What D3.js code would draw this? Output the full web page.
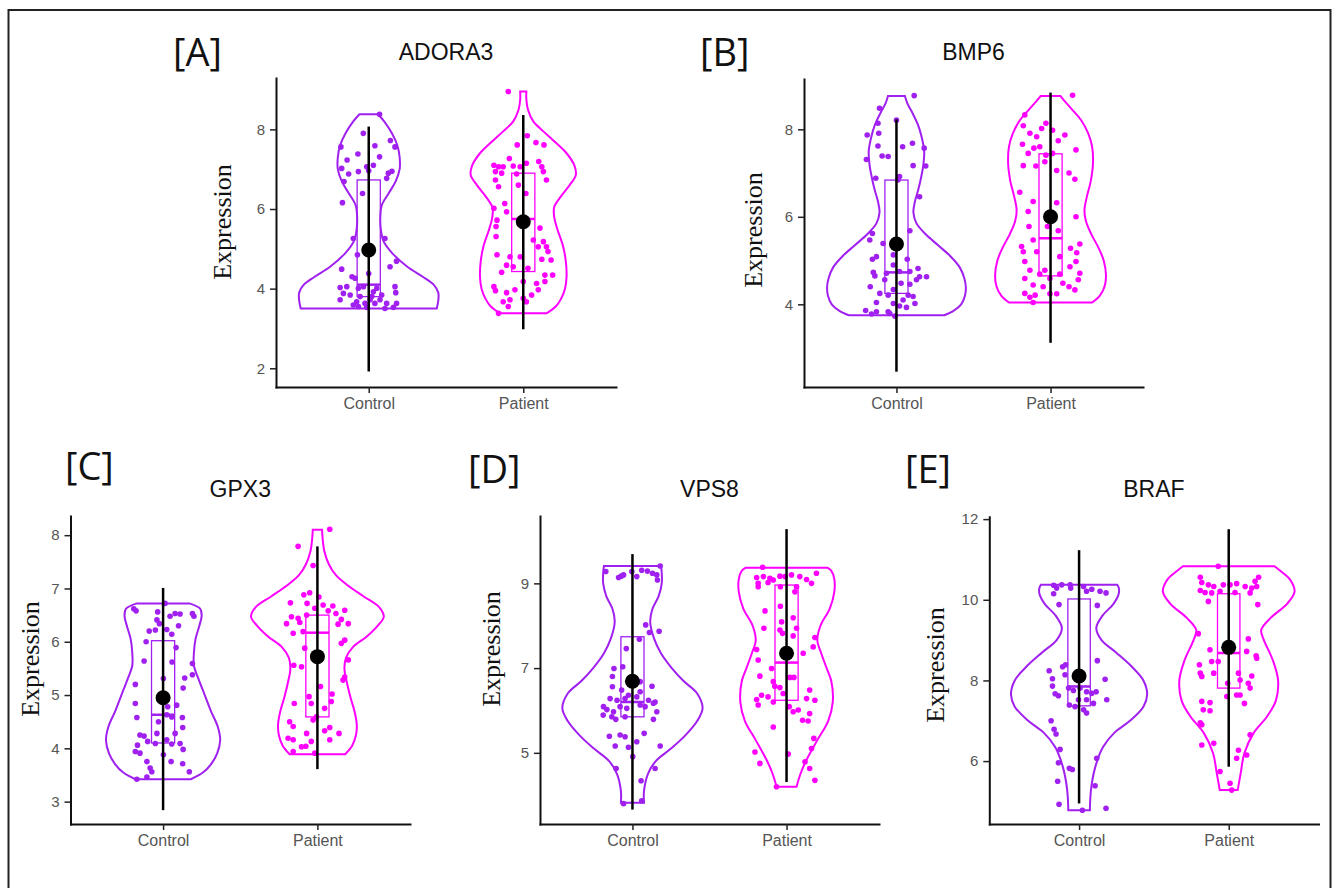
<!DOCTYPE html>
<html>
<head>
<meta charset="utf-8">
<script src="https://cdn.jsdelivr.net/npm/d3@7"></script>
<style>
  body { margin: 0; background: #fff; }
</style>
</head>
<body>
<div id="chart"></div>
<script>
//////////////////////////// DATA
var genes = ["ADORA3", "BMP6", "GPX3", "VPS8", "BRAF"];
var letters = ["[A]", "[B]", "[C]", "[D]", "[E]"];
var groups = ["Control", "Patient"];
var yTicks = [[2, 4, 6, 8], [4, 6, 8], [3, 4, 5, 6, 7, 8], [5, 7, 9], [6, 8, 10, 12]];
var yDomains = [[1.53, 9.29], [2.11, 9.15], [2.58, 8.36], [3.32, 10.59], [4.44, 12.06]];

// box: [q1, median, q3] for Control, Patient
var boxAdora3 = [[3.8, 4.1, 6.73], [4.43, 5.75, 6.9]];
var boxBmp6   = [[4.25, 4.73, 6.84], [4.65, 5.51, 7.44]];
var boxGpx3   = [[4.1, 4.63, 6.02], [4.59, 6.17, 6.5]];
var boxVps8   = [[5.85, 6.2, 7.74], [6.24, 7.13, 8.96]];
var boxBraf   = [[7.37, 7.85, 10.02], [7.81, 8.68, 10.15]];

// mean with error bar: [mean, low, high] for Control, Patient
var meanAdora3 = [[4.97, 1.92, 8.07], [5.68, 2.98, 8.36]];
var meanBmp6   = [[5.38, 2.46, 8.23], [6.0, 3.12, 8.84]];
var meanGpx3   = [[4.95, 2.84, 7.01], [5.72, 3.61, 7.79]];
var meanVps8   = [[6.69, 3.66, 9.69], [7.35, 4.31, 10.28]];
var meanBraf   = [[8.11, 4.95, 11.23], [8.82, 5.86, 11.75]];

// violin outlines: [expression, half width in category units]
var vioAdora3Ctrl = [[3.5,0.44],[3.7,0.45],[3.9,0.45],[4.1,0.42],[4.3,0.35],[4.55,0.25],[4.9,0.15],[5.2,0.095],[5.5,0.078],[5.8,0.075],[6.1,0.085],[6.4,0.13],[6.7,0.175],[7.0,0.2],[7.3,0.2],[7.6,0.185],[7.9,0.15],[8.2,0.1],[8.38,0.06]];
var vioAdora3Pat  = [[3.38,0.15],[3.55,0.21],[3.75,0.245],[4.0,0.27],[4.3,0.28],[4.7,0.275],[5.1,0.255],[5.5,0.22],[5.8,0.2],[6.05,0.2],[6.3,0.24],[6.6,0.3],[6.85,0.34],[7.1,0.33],[7.4,0.28],[7.7,0.2],[7.95,0.13],[8.2,0.065],[8.5,0.03],[8.75,0.02],[8.95,0.02]];
var vioBmp6Ctrl   = [[3.75,0.31],[3.85,0.37],[4.0,0.42],[4.2,0.445],[4.4,0.45],[4.6,0.44],[4.85,0.41],[5.1,0.35],[5.35,0.27],[5.6,0.19],[5.85,0.13],[6.1,0.11],[6.35,0.12],[6.6,0.14],[6.9,0.16],[7.2,0.175],[7.5,0.18],[7.8,0.165],[8.1,0.14],[8.4,0.1],[8.6,0.07],[8.76,0.055]];
var vioBmp6Pat    = [[4.04,0.27],[4.2,0.32],[4.4,0.35],[4.65,0.36],[5.0,0.345],[5.3,0.31],[5.6,0.265],[5.9,0.23],[6.15,0.22],[6.45,0.235],[6.8,0.26],[7.2,0.275],[7.6,0.27],[7.9,0.245],[8.2,0.2],[8.45,0.14],[8.65,0.09],[8.76,0.065]];
var vioGpx3Ctrl   = [[3.42,0.18],[3.55,0.26],[3.7,0.31],[3.9,0.35],[4.15,0.37],[4.4,0.355],[4.7,0.31],[5.0,0.27],[5.3,0.23],[5.55,0.2],[5.8,0.2],[6.05,0.21],[6.3,0.235],[6.5,0.25],[6.62,0.24],[6.72,0.17]];
var vioGpx3Pat    = [[3.89,0.18],[4.05,0.225],[4.25,0.25],[4.45,0.255],[4.7,0.24],[4.95,0.215],[5.25,0.19],[5.5,0.175],[5.7,0.185],[5.9,0.23],[6.1,0.32],[6.3,0.39],[6.47,0.43],[6.65,0.4],[6.85,0.3],[7.05,0.2],[7.25,0.12],[7.45,0.075],[7.7,0.045],[7.9,0.035],[8.1,0.03]];
var vioVps8Ctrl   = [[3.82,0.075],[4.1,0.075],[4.5,0.1],[4.8,0.15],[5.1,0.25],[5.4,0.34],[5.75,0.42],[6.05,0.455],[6.4,0.42],[6.7,0.33],[7.0,0.255],[7.35,0.185],[7.7,0.14],[8.1,0.115],[8.4,0.13],[8.7,0.17],[9.0,0.19],[9.25,0.19],[9.41,0.185]];
var vioVps8Pat    = [[4.2,0.065],[4.5,0.09],[4.8,0.125],[5.3,0.2],[5.75,0.27],[6.2,0.3],[6.7,0.29],[7.0,0.26],[7.35,0.225],[7.65,0.2],[8.0,0.22],[8.4,0.28],[8.8,0.31],[9.1,0.31],[9.3,0.29],[9.37,0.265]];
var vioBrafCtrl   = [[4.78,0.072],[5.3,0.08],[5.85,0.108],[6.35,0.16],[6.7,0.235],[7.0,0.34],[7.35,0.43],[7.65,0.455],[8.0,0.43],[8.35,0.35],[8.7,0.245],[9.0,0.15],[9.3,0.115],[9.6,0.155],[9.9,0.23],[10.15,0.265],[10.3,0.265],[10.37,0.255]];
var vioBrafPat    = [[5.28,0.06],[5.7,0.08],[6.2,0.105],[6.7,0.167],[7.1,0.255],[7.5,0.315],[8.0,0.33],[8.5,0.295],[9.0,0.235],[9.25,0.217],[9.55,0.28],[9.9,0.39],[10.2,0.44],[10.5,0.41],[10.7,0.35],[10.83,0.306]];

// jittered samples: [horizontal offset in category units, expression]
var ptsAdora3Ctrl = [[0.07,8.38],[-0.035,7.9],[-0.18,7.56],[0.04,7.59],[0.14,7.72],[0.17,7.56],[-0.07,7.38],[0.07,7.31],[-0.14,7.23],[-0.175,7.02],[-0.013,7.06],[0.03,7.1],[-0.13,6.88],[-0.067,6.94],[0,6.96],[0.127,6.9],[0.116,6.77],[0.15,6.95],[-0.16,6.69],[-0.04,6.39],[-0.17,6.16],[-0.1,5.26],[0.105,5.26],[-0.073,4.85],[0,4.38],[0.18,4.69],[-0.175,4.49],[0.138,4.55],[-0.108,4.3],[-0.088,4.26],[-0.185,4.03],[-0.142,4.05],[-0.164,3.88],[-0.067,4.01],[-0.034,4.05],[0.03,3.92],[0.052,4.01],[0.17,4.05],[0.175,3.9],[-0.185,3.72],[-0.12,3.84],[-0.078,3.67],[-0.056,3.8],[-0.024,3.63],[0.009,3.72],[0.04,3.63],[0.073,3.72],[0.116,3.63],[-0.067,3.55],[-0.013,3.53],[0.105,3.5],[0.16,3.53],[0.18,3.63],[-0.1,3.59],[0.02,3.8],[0.084,3.84]];
var ptsAdora3Pat  = [[-0.097,8.95],[0.026,7.84],[0.082,7.67],[0.134,7.61],[-0.039,7.61],[-0.09,7.27],[0.02,7.15],[-0.19,7.1],[-0.16,7.06],[-0.13,7.06],[-0.065,7.08],[-0.02,7.06],[0.1,7.19],[0.12,7.06],[-0.18,6.94],[-0.14,6.9],[-0.043,6.88],[0.13,6.94],[0.15,6.73],[-0.18,6.73],[-0.16,6.56],[-0.032,6.6],[0.017,6.39],[-0.12,6.14],[-0.19,6.02],[-0.108,5.93],[-0.17,5.72],[-0.176,5.56],[0.108,5.52],[-0.176,5.31],[0.065,5.22],[0.13,5.18],[0.15,5.05],[0.097,5.05],[0.16,4.93],[-0.17,4.85],[-0.086,4.8],[-0.02,4.8],[0.18,4.72],[0.12,4.74],[-0.108,4.59],[-0.065,4.55],[0.03,4.51],[0.19,4.34],[0.14,4.34],[-0.14,4.41],[0,4.18],[0.086,4.13],[0.14,4.18],[-0.19,4.05],[0.097,3.97],[-0.18,3.95],[-0.108,3.9],[-0.054,3.97],[0.054,3.84],[0,3.76],[-0.13,3.67],[-0.086,3.72],[0.02,3.67],[-0.097,3.55],[-0.16,3.38]];
var ptsBmp6Ctrl   = [[0.115,8.77],[-0.11,8.48],[-0.12,8.14],[0,8.21],[-0.19,7.87],[-0.115,7.91],[-0.12,7.62],[0.04,7.6],[0.104,7.68],[0.18,7.57],[-0.093,7.39],[-0.054,7.38],[-0.195,7.31],[0.19,7.16],[0.108,7.17],[-0.134,6.88],[0.02,6.92],[0.01,6.84],[0.15,6.46],[0.087,5.68],[-0.156,5.62],[-0.173,5.47],[-0.087,5.39],[-0.02,5.13],[-0.13,5.09],[-0.156,5.03],[0.07,5.03],[-0.02,4.9],[-0.15,4.73],[-0.14,4.65],[-0.065,4.71],[0.02,4.75],[0.087,4.75],[0.14,4.82],[0.15,4.63],[0.195,4.63],[-0.17,4.4],[-0.076,4.56],[0.03,4.48],[0.087,4.46],[0.13,4.56],[-0.02,4.34],[-0.108,4.25],[-0.054,4.21],[0.076,4.21],[0.108,4.18],[0.043,4.1],[0.12,4.02],[-0.02,4.02],[-0.13,4.04],[0.02,3.96],[-0.2,3.86],[-0.13,3.83],[-0.054,3.83],[-0.162,3.78],[-0.043,3.79],[-0.01,3.73],[0.065,3.93]];
var ptsBmp6Pat    = [[0.143,8.78],[-0.167,8.33],[-0.177,8.08],[-0.058,8.02],[0.013,7.98],[-0.03,8.14],[-0.134,7.91],[-0.09,7.83],[0.093,7.87],[-0.182,7.66],[-0.108,7.57],[-0.07,7.6],[0.05,7.74],[0.165,7.53],[-0.145,7.45],[-0.03,7.41],[0.013,7.45],[-0.177,7.17],[-0.095,7.16],[-0.037,7.26],[0.04,7.06],[0.12,7.0],[0.158,6.86],[-0.2,6.56],[-0.113,6.35],[0.04,6.32],[-0.145,6.12],[0.165,6.0],[-0.14,5.78],[-0.02,5.78],[0.05,5.68],[-0.113,5.47],[-0.188,5.32],[-0.177,5.2],[-0.09,5.2],[0.19,5.38],[0.13,5.28],[0.17,5.18],[0.06,5.09],[-0.167,4.98],[0.165,4.98],[0.126,4.86],[-0.134,4.78],[-0.037,4.78],[-0.07,4.69],[0.06,4.69],[0.19,4.71],[-0.167,4.59],[-0.004,4.59],[0.08,4.48],[0.18,4.56],[0.12,4.4],[0.158,4.33],[-0.113,4.44],[-0.048,4.4],[-0.167,4.25],[-0.134,4.16],[-0.1,4.21],[-0.004,4.24],[0.04,4.24],[-0.113,4.04]];
var ptsGpx3Ctrl   = [[-0.19,6.62],[-0.175,6.58],[-0.035,6.56],[0.013,6.72],[0.045,6.48],[0.078,6.53],[0.11,6.52],[0.19,6.53],[0.2,6.48],[-0.04,6.41],[-0.024,6.34],[-0.09,6.2],[-0.05,6.22],[0.024,6.23],[0.1,6.3],[0.056,6.14],[-0.11,6.0],[0.084,5.89],[-0.123,5.64],[0.058,5.62],[0.19,5.59],[0.19,5.38],[0.002,5.31],[0.14,5.32],[-0.18,5.2],[0.13,5.13],[-0.18,4.84],[0.088,4.81],[0.03,4.78],[-0.17,4.58],[-0.03,4.5],[0.024,4.63],[0.056,4.59],[0.125,4.58],[0.127,4.39],[-0.15,4.25],[-0.123,4.23],[-0.04,4.28],[0.078,4.28],[-0.1,4.13],[-0.05,4.09],[0.024,4.16],[0.056,4.08],[0.11,4.09],[-0.166,4.06],[-0.18,3.94],[-0.15,3.91],[0.13,3.98],[0.002,3.88],[-0.105,3.75],[0.052,3.75],[-0.084,3.63],[-0.073,3.56],[0.127,3.71],[0.17,3.56],[-0.17,3.42],[-0.105,3.46]];
var ptsGpx3Pat    = [[0.08,8.11],[-0.125,7.79],[-0.028,7.43],[-0.088,6.88],[-0.05,6.92],[0.01,6.84],[-0.175,6.73],[-0.067,6.72],[-0.017,6.63],[0.037,6.69],[0.1,6.67],[-0.168,6.47],[-0.125,6.44],[-0.07,6.5],[0.07,6.58],[0.12,6.53],[0.177,6.59],[0.155,6.42],[-0.2,6.34],[-0.114,6.36],[0.134,6.33],[0.2,6.34],[-0.157,6.16],[-0.093,6.19],[0.177,6.03],[0.155,5.97],[-0.082,5.88],[0.2,5.66],[-0.153,5.56],[-0.103,5.53],[0.177,5.34],[0.166,5.28],[0.02,5.16],[-0.054,4.97],[-0.15,4.84],[-0.04,4.84],[0.095,5.02],[0.09,4.88],[0.047,4.75],[-0.006,4.59],[-0.18,4.5],[-0.157,4.41],[-0.028,4.53],[0.08,4.39],[0.047,4.33],[-0.19,4.19],[-0.157,4.16],[-0.07,4.28],[0.14,4.28],[0.08,4.16],[-0.04,4.13],[-0.103,4.03],[-0.075,4.04],[-0.157,3.94],[-0.017,3.91]];
var ptsVps8Ctrl   = [[-0.173,9.28],[-0.073,9.17],[-0.09,9.14],[-0.058,9.2],[0.06,9.31],[0.097,9.29],[0.13,9.24],[0.18,9.41],[0.158,9.2],[0.162,9.08],[0.028,9.16],[-0.004,9.28],[0.086,8.02],[0.11,7.84],[0.173,7.87],[0.045,7.68],[-0.04,7.46],[-0.12,6.99],[-0.063,7.03],[-0.13,6.8],[-0.13,6.56],[0.05,6.68],[0.127,6.57],[0.05,6.44],[-0.07,6.48],[-0.026,6.36],[-0.145,6.28],[-0.1,6.24],[-0.048,6.28],[0.028,6.32],[0.104,6.24],[0.147,6.2],[-0.188,6.09],[-0.166,6.02],[-0.123,5.97],[-0.08,6.09],[-0.037,6.05],[0.05,6.13],[0.082,6.09],[0.136,6.17],[0.158,5.97],[-0.19,5.89],[-0.134,5.85],[-0.048,5.85],[0.136,5.79],[-0.108,5.79],[0.076,5.46],[-0.15,5.39],[-0.08,5.42],[-0.048,5.38],[0.028,5.26],[0.18,5.16],[-0.112,5.16],[-0.026,5.13],[0.002,4.91],[-0.106,4.63],[0.147,4.63],[0.056,4.34],[-0.058,3.8],[0.06,3.87]];
var ptsVps8Pat    = [[-0.155,9.38],[0.194,9.24],[-0.194,9.14],[-0.15,9.16],[-0.108,9.12],[-0.043,9.17],[-0.086,9.08],[-0.184,9.0],[-0.12,9.02],[-0.01,9.16],[0.032,9.2],[0.086,9.16],[0.13,9.09],[0.162,9.0],[0.065,8.92],[0.054,8.8],[-0.04,8.92],[-0.184,8.92],[-0.04,8.46],[-0.14,8.35],[0.043,8.19],[-0.032,8.09],[-0.147,7.94],[-0.043,7.9],[0.065,7.94],[-0.026,7.82],[0.043,7.76],[0.184,7.72],[0.173,7.5],[-0.194,7.44],[-0.184,7.19],[0.108,7.35],[-0.097,6.99],[0.022,6.78],[0.048,6.78],[-0.173,6.81],[-0.086,6.68],[-0.076,6.57],[-0.043,6.54],[-0.022,6.4],[-0.162,6.36],[-0.12,6.32],[-0.194,6.26],[0.15,6.48],[0.13,6.28],[0.184,6.24],[-0.184,6.13],[-0.086,6.2],[0.017,6.09],[0.043,5.97],[0.076,6.01],[0.15,5.93],[0.104,5.77],[0.14,5.75],[-0.086,5.61],[0.177,5.34],[0.162,5.1],[-0.205,5.02],[0.011,4.97],[-0.173,4.75],[0.12,4.79],[0.15,4.63],[0.184,4.35],[-0.065,4.2]];
var ptsBrafCtrl   = [[-0.17,10.36],[-0.15,10.29],[-0.116,10.37],[-0.06,10.37],[-0.056,10.29],[0.03,10.33],[0.05,10.21],[0.085,10.26],[0.14,10.21],[0.18,10.17],[-0.17,10.15],[-0.134,9.88],[0.122,9.86],[0.122,8.49],[-0.11,8.34],[-0.09,8.39],[-0.2,8.24],[-0.094,8.14],[0.174,8.03],[-0.178,8.04],[-0.178,7.86],[-0.16,7.67],[-0.138,7.62],[-0.07,7.81],[-0.038,7.75],[0.007,7.81],[0.05,7.72],[0.085,7.68],[0.114,7.72],[0.05,7.52],[0.096,7.43],[-0.004,7.52],[-0.065,7.39],[-0.027,7.35],[0.03,7.27],[0.05,7.19],[0.185,7.52],[-0.187,7.0],[-0.167,6.79],[-0.154,6.67],[-0.127,6.29],[-0.138,5.96],[-0.065,5.82],[-0.045,5.79],[0.118,6.07],[-0.143,5.5],[0.107,5.39],[-0.134,4.93],[0.022,4.78],[0.18,4.83]];
var ptsBrafPat    = [[-0.07,10.83],[-0.19,10.56],[-0.18,10.43],[0.2,10.56],[0.176,10.46],[-0.136,10.37],[-0.1,10.33],[-0.036,10.37],[0.009,10.37],[0.053,10.4],[0.11,10.33],[0.154,10.29],[0.187,10.33],[-0.19,10.23],[-0.158,10.18],[-0.114,10.17],[-0.058,10.21],[0.042,10.18],[0.143,10.17],[-0.136,9.96],[0.194,9.88],[-0.203,9.16],[0.131,9.03],[-0.125,8.76],[0.12,8.72],[0.183,8.61],[0.187,8.55],[-0.114,8.47],[-0.07,8.47],[-0.196,8.39],[-0.19,8.18],[-0.18,8.1],[-0.1,8.18],[0.065,8.18],[0.154,8.11],[0.076,8.01],[0.131,7.93],[0.143,7.81],[-0.007,7.93],[0.053,7.64],[0.076,7.64],[-0.013,7.6],[0.105,7.43],[-0.18,7.48],[-0.125,7.45],[-0.17,7.27],[-0.125,7.25],[-0.19,6.95],[-0.18,6.9],[0.143,6.65],[-0.1,6.44],[-0.18,6.4],[0.065,6.27],[0.053,6.07],[0.12,6.15],[-0.058,5.74],[0.009,5.45],[0.02,5.28]];

var boxes   = [boxAdora3, boxBmp6, boxGpx3, boxVps8, boxBraf];
var means   = [meanAdora3, meanBmp6, meanGpx3, meanVps8, meanBraf];
var violins = [[vioAdora3Ctrl, vioAdora3Pat], [vioBmp6Ctrl, vioBmp6Pat], [vioGpx3Ctrl, vioGpx3Pat], [vioVps8Ctrl, vioVps8Pat], [vioBrafCtrl, vioBrafPat]];
var points  = [[ptsAdora3Ctrl, ptsAdora3Pat], [ptsBmp6Ctrl, ptsBmp6Pat], [ptsGpx3Ctrl, ptsGpx3Pat], [ptsVps8Ctrl, ptsVps8Pat], [ptsBrafCtrl, ptsBrafPat]];

//////////////////////////// LAYOUT
var svgWidth = 1332, svgHeight = 888;
var colors = ["#a020f0", "#ff00ff"];
var boxHalf = 0.075;

// panel frames (pixels)
var layout = [
  {x0: 276,   x1: 616,    top: 78,    bottom: 387, lx: 173, ly: 66,  ty: 60,  yx: 231, yy: 222},
  {x0: 804,   x1: 1143,   top: 79,    bottom: 387, lx: 700, ly: 66,  ty: 60,  yx: 762, yy: 230},
  {x0: 70.5,  x1: 410,    top: 516,   bottom: 824, lx: 65,  ly: 480, ty: 497, yx: 39,  yy: 659},
  {x0: 540,   x1: 879,    top: 516,   bottom: 824, lx: 468, ly: 483, ty: 497, yx: 500, yy: 649},
  {x0: 989.3, x1: 1318.5, top: 516.7, bottom: 824, lx: 905, ly: 483, ty: 497, yx: 944, yy: 665}
];

var svg = d3.select("#chart")
  .append("svg")
    .attr("width", svgWidth)
    .attr("height", svgHeight);

// outer frame
svg.append("rect")
  .attr("x", 8.5).attr("y", 10)
  .attr("width", 1322).attr("height", 900)
  .style("fill", "none")
  .style("stroke", "#222")
  .style("stroke-width", 2);

genes.forEach(function(gene, i) {
  var L = layout[i];
  var g = svg.append("g");

  var x = d3.scalePoint().domain(groups).range([L.x0, L.x1]).padding(0.6);
  var y = d3.scaleLinear().domain(yDomains[i]).range([L.bottom, L.top]);
  var step = x.step();

  // violins
  groups.forEach(function(grp, k) {
    var cx = x(grp);
    var area = d3.area()
      .curve(d3.curveCatmullRom)
      .y(function(d) { return y(d[0]); })
      .x0(function(d) { return cx - d[1] * step; })
      .x1(function(d) { return cx + d[1] * step; });
    g.append("path")
      .attr("d", area(violins[i][k]))
      .style("fill", "#fff")
      .style("stroke", colors[k])
      .style("stroke-width", 2);
  });

  // boxes
  groups.forEach(function(grp, k) {
    var cx = x(grp), b = boxes[i][k];
    g.append("rect")
      .attr("x", cx - boxHalf * step)
      .attr("width", 2 * boxHalf * step)
      .attr("y", y(b[2]))
      .attr("height", y(b[0]) - y(b[2]))
      .style("fill", "none")
      .style("stroke", colors[k])
      .style("stroke-width", 1.3);
    g.append("line")
      .attr("x1", cx - boxHalf * step).attr("x2", cx + boxHalf * step)
      .attr("y1", y(b[1])).attr("y2", y(b[1]))
      .style("stroke", colors[k])
      .style("stroke-width", 2.5);
  });

  // jittered points
  groups.forEach(function(grp, k) {
    var cx = x(grp);
    g.selectAll(".pt" + k)
      .data(points[i][k])
      .enter()
      .append("circle")
        .attr("cx", function(d) { return cx + d[0] * step; })
        .attr("cy", function(d) { return y(d[1]); })
        .attr("r", 2.8)
        .style("fill", colors[k]);
  });

  // mean + error bar
  groups.forEach(function(grp, k) {
    var cx = x(grp), m = means[i][k];
    g.append("line")
      .attr("x1", cx).attr("x2", cx)
      .attr("y1", y(m[1])).attr("y2", y(m[2]))
      .style("stroke", "#000")
      .style("stroke-width", 2.5);
    g.append("circle")
      .attr("cx", cx).attr("cy", y(m[0]))
      .attr("r", 7.5)
      .style("fill", "#000");
  });

  // axes
  var yAxis = g.append("g")
    .attr("transform", "translate(" + L.x0 + ",0)")
    .call(d3.axisLeft(y).tickValues(yTicks[i]).tickFormat(d3.format("d"))
      .tickSize(6).tickSizeOuter(0).tickPadding(5));
  var xAxis = g.append("g")
    .attr("transform", "translate(0," + L.bottom + ")")
    .call(d3.axisBottom(x).tickSize(6).tickSizeOuter(0).tickPadding(5));

  [yAxis, xAxis].forEach(function(ax) {
    ax.select(".domain").style("stroke", "#111").style("stroke-width", 2).style("stroke-linecap", "square");
    ax.selectAll(".tick line").style("stroke", "#222").style("stroke-width", 1.5);
    ax.selectAll(".tick text")
      .style("font-family", "'Liberation Sans', Arial, sans-serif")
      .style("fill", "#555");
  });
  yAxis.selectAll(".tick text").style("font-size", "15px");
  xAxis.selectAll(".tick text").style("font-size", "16px");

  // title
  svg.append("text")
    .attr("x", (L.x0 + L.x1) / 2)
    .attr("y", L.ty)
    .attr("text-anchor", "middle")
    .style("font-family", "'Liberation Sans', Arial, sans-serif")
    .style("font-size", "23px")
    .style("fill", "#111")
    .text(gene);

  // panel letter
  svg.append("text")
    .attr("x", L.lx)
    .attr("y", L.ly)
    .style("font-family", "'Open Sans', sans-serif")
    .style("font-size", "38px")
    .style("fill", "#111")
    .text(letters[i]);

  // y label
  svg.append("text")
    .attr("text-anchor", "middle")
    .attr("transform", "translate(" + L.yx + "," + L.yy + ")rotate(-90)")
    .style("font-family", "'Liberation Serif', 'Times New Roman', serif")
    .style("font-size", "26px")
    .style("fill", "#111")
    .text("Expression");
});
</script>
</body>
</html>
